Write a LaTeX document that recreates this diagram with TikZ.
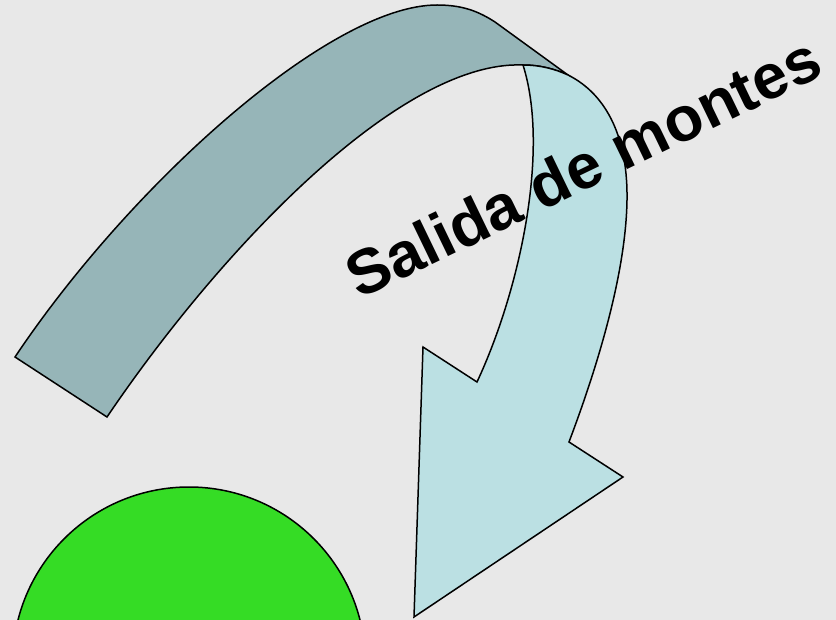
\documentclass[tikz,border=0pt]{standalone}
\usepackage{fontspec}
\setmainfont{Liberation Sans}
\definecolor{bgc}{RGB}{232,232,232}
\definecolor{bandgray}{RGB}{150,181,184}
\definecolor{bandblue}{RGB}{187,224,227}
\definecolor{ballgreen}{RGB}{53,220,37}
\tikzset{
  shapeline/.style={draw=black, line width=1.5pt, line join=miter},
}
\begin{document}
\begin{tikzpicture}[x=1pt,y=-1pt]
\fill[bgc] (0,0) rectangle (836,620);
\useasboundingbox (0,0) rectangle (836,620);
\clip (0,0) rectangle (836,620);
% green ball
\fill[ballgreen, shapeline] (189,663.4) circle (176.4);
% grey band
\coordinate (J) at (568,75);
\coordinate (P) at (523,65);
\fill[bandgray, shapeline] (15,357) .. controls (130,185) and (330,5) .. (437,5)
  .. controls (462,5) and (478,11) .. (495,22) -- (J)
  .. controls (555,69) and (540,65) .. (P)
  .. controls (400,60) and (220,250) .. (107,417) -- cycle;
% light blue arrow
\fill[bandblue, shapeline] (P) .. controls (540,65) and (555,69) .. (J)
  .. controls (608,95) and (628,140) .. (627,200)
  .. controls (626,270) and (600,360) .. (569,442)
  -- (623,477) -- (414,617) -- (423,347) -- (477,382)
  .. controls (520,290) and (550,150) .. (P) -- cycle;
% label
\node[rotate=25.8, anchor=base west, inner sep=0pt, font=\fontsize{63}{70}\selectfont\bfseries] (lbl) at (359,300) {Salida de montes};
\end{tikzpicture}
\end{document}
